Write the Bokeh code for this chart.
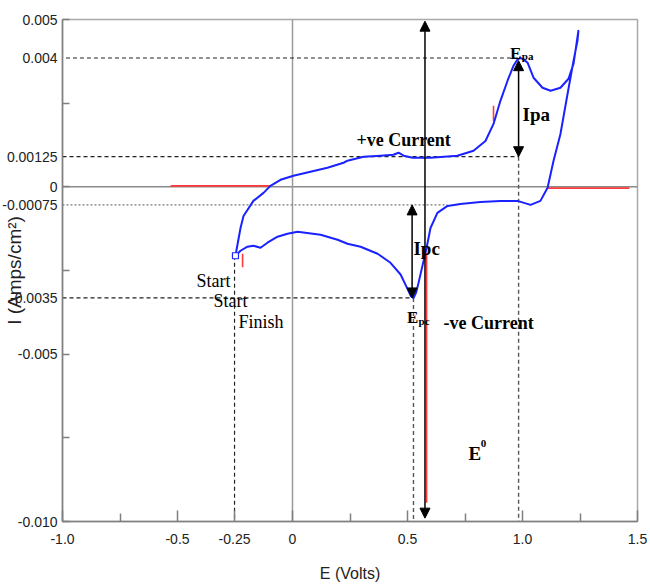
import math
from bokeh.plotting import figure
from bokeh.models import Range1d, FixedTicker, Arrow, NormalHead, Label, Span
from bokeh.embed import file_html
from bokeh.resources import INLINE

# ---- cyclic voltammogram (E in V, I in A/cm^2) ----
cv_E = [-0.248, -0.226, -0.213, -0.170, -0.126, -0.096, -0.052, 0.004, 0.078, 0.152,
        0.222, 0.239, 0.309, 0.383, 0.439, 0.461, 0.483, 0.522, 0.600, 0.717,
        0.787, 0.839, 0.874, 0.904, 0.935, 0.961, 0.978, 0.991, 1.005, 1.022, 1.048, 1.087,
        1.122, 1.165, 1.200, 1.222, 1.243,
        1.239, 1.222, 1.196, 1.165, 1.135, 1.109, 1.078, 1.035, 0.978, 0.904,
        0.817, 0.730, 0.674, 0.630, 0.600, 0.583, 0.565, 0.548, 0.537, 0.526, 0.515, 0.500,
        0.470, 0.426, 0.370, 0.296, 0.239, 0.196, 0.122, 0.022, -0.022, -0.065,
        -0.109, -0.139, -0.170, -0.196, -0.226, -0.248]
cv_I = [-0.00206, -0.00123, -0.00087, -0.00042, -0.00018, 0.00003, 0.00021, 0.00033, 0.00045, 0.00057,
        0.00072, 0.00078, 0.00090, 0.00093, 0.00096, 0.00102, 0.00093, 0.00087, 0.00087, 0.00093,
        0.00108, 0.00137, 0.00188, 0.00257, 0.00317, 0.00362, 0.00380, 0.00385, 0.00381, 0.00371, 0.00326, 0.00296,
        0.00287, 0.00296, 0.00323, 0.00368, 0.00466,
        0.00436, 0.00377, 0.00278, 0.00158, 0.00078, -0.00003, -0.00042, -0.00054, -0.00042, -0.00042,
        -0.00045, -0.00051, -0.00057, -0.00078, -0.00123, -0.00182, -0.00236, -0.00287, -0.00317, -0.00332, -0.00327, -0.00305,
        -0.00262, -0.00227, -0.00200, -0.00179, -0.00170, -0.00158, -0.00143, -0.00134, -0.00140, -0.00149,
        -0.00167, -0.00182, -0.00176, -0.00179, -0.00191, -0.00206]

# second (red) trace fragments visible in the picture
red_E = [[-0.53, -0.096], [1.107, 1.465], [0.583, 0.583], [-0.217, -0.217], [0.874, 0.874]]
red_I = [[0.00003, 0.00003], [-0.00004, -0.00004], [-0.00197, -0.00944], [-0.00200, -0.00240], [0.00242, 0.00197]]

# characteristic values marked on the chart
E_pa = 0.983
E_pc = 0.526
E_start = -0.252
E_0 = 0.576
I_pa = 0.00385
I_pa_base = 0.0009
I_pc_base = -0.00054
I_pc = -0.00332
marked_levels = [I_pa, I_pa_base, I_pc_base, I_pc]
marked_labels = ["0.004", "0.00125", "-0.00075", "-0.0035"]
E_start_label = "-0.25"

# axes
x_major = [-1.0, -0.5, 0.0, 0.5, 1.0, 1.5]
x_major_labels = ["-1.0", "-0.5", "0", "0.5", "1.0", "1.5"]
x_minor = [-0.75, 0.25, 0.75, 1.25]
y_major = [0.005, 0.0, -0.005, -0.010]
y_major_labels = ["0.005", "0", "-0.005", "-0.010"]
y_minor = [0.0025, -0.0025, -0.0075]

BLUE = "#1a22ff"
RED = "#ff3a3a"
GRAY = "#7f7f7f"
SERIF = "Liberation Serif"
SANS = "Liberation Sans"

p = figure(width=650, height=586, output_backend="svg", toolbar_location=None,
           x_range=Range1d(-1.0, 1.5), y_range=Range1d(-0.010, 0.005),
           min_border_left=62, min_border_right=13, min_border_top=19, min_border_bottom=65)
p.grid.visible = False
p.outline_line_color = "#a9a9a9"
p.outline_line_width = 1.5
p.background_fill_color = "white"
p.border_fill_color = "white"

# x axis: regular ticks plus the marked start potential
xt = x_major + [E_start]
xl = x_major_labels + [E_start_label]
p.xaxis.ticker = FixedTicker(ticks=xt, minor_ticks=x_minor)
p.xaxis.major_label_overrides = {v: s for v, s in zip(xt, xl)}

# y axis: regular ticks plus the marked current levels
yt = y_major + marked_levels
yl = y_major_labels + marked_labels
p.yaxis.ticker = FixedTicker(ticks=yt, minor_ticks=y_major + y_minor)
p.yaxis.major_label_overrides = {v: s for v, s in zip(yt, yl)}

for ax in (p.xaxis[0], p.yaxis[0]):
    ax.axis_line_color = GRAY
    ax.axis_line_width = 1.5
    ax.major_tick_line_color = GRAY
    ax.minor_tick_line_color = GRAY
    ax.major_tick_line_width = 1.5
    ax.minor_tick_line_width = 1.5
    ax.major_tick_out = 0
    ax.minor_tick_out = 0
    ax.major_label_text_font = SANS
    ax.major_label_text_font_size = "14px"
    ax.major_label_text_color = "#222222"
    ax.axis_label_text_font = SANS
    ax.axis_label_text_font_style = "normal"
    ax.axis_label_text_color = "#222222"
p.xaxis.major_tick_in = 11
p.xaxis.minor_tick_in = 8
p.yaxis.major_tick_in = 0
p.yaxis.minor_tick_in = 7
p.xaxis.major_label_standoff = 12
p.yaxis.major_label_standoff = 5
p.xaxis.axis_label = "E (Volts)"
p.xaxis.axis_label_text_font_size = "16px"
p.xaxis.axis_label_standoff = 18
p.yaxis.axis_label = "I (Amps/cm\u00b2)"
p.yaxis.axis_label_text_font_size = "19px"
p.yaxis.axis_label_standoff = -26

# zero lines
p.add_layout(Span(location=0, dimension="width", line_color="#8a8a8a", line_width=1.5, level="underlay"))
p.add_layout(Span(location=0, dimension="height", line_color="#9a9a9a", line_width=1.5, level="underlay"))

# dashed guide lines
dash = "4 3"
p.segment(x0=[-0.985, -1.0, -1.0], y0=[I_pa, I_pa_base, I_pc],
          x1=[E_pa, E_pa, E_pc], y1=[I_pa, I_pa_base, I_pc],
          line_color="#222222", line_width=1.2, line_dash=dash)
p.segment(x0=[-1.0], y0=[I_pc_base], x1=[0.674], y1=[I_pc_base],
          line_color="#777777", line_width=1.2, line_dash="2 2")
p.segment(x0=[E_start], y0=[cv_I[0]], x1=[E_start], y1=[-0.010],
          line_color="#222222", line_width=1.2, line_dash=dash)
p.segment(x0=[E_pc, E_pa], y0=[I_pc, I_pa_base], x1=[E_pc, E_pa], y1=[-0.010, -0.010],
          line_color="#555555", line_width=1.4, line_dash=dash)

# red trace
p.multi_line(xs=red_E, ys=red_I, line_color=RED, line_width=1.6)

# blue CV loop
p.line(cv_E, cv_I, line_color=BLUE, line_width=2, line_join="round")
p.scatter([cv_E[0]], [cv_I[0]], marker="square", size=6, fill_color="white",
          line_color=BLUE, line_width=1.2)

# arrows
def darrow(x, y0, y1, size=10):
    p.add_layout(Arrow(x_start=x, y_start=y0, x_end=x, y_end=y1, line_color="black", line_width=1.5,
                       start=NormalHead(size=size, fill_color="black", line_color="black"),
                       end=NormalHead(size=size, fill_color="black", line_color="black")))

darrow(E_0, -0.0099, 0.00495)
darrow(E_pa, I_pa_base, I_pa - 0.00008)
darrow(0.520, I_pc_base, I_pc)

def lab(x, y, text, size, font=SERIF, style="bold", align="left", baseline="alphabetic", color="black"):
    p.add_layout(Label(x=x, y=y, text=text, text_font=font, text_font_size=size,
                       text_font_style=style, text_align=align, text_baseline=baseline,
                       text_color=color))

# chart texts
lab(0.278, 0.0014, "+ve Current", "18px")
lab(0.657, -0.00406, "-ve Current", "18px")
lab(1.0, 0.00215, "Ipa", "19px")
lab(0.526, -0.00185, "Ipc", "19px")
lab(0.946, 0.00397, "E", "17px")
lab(0.997, 0.00391, "pa", "11px")
lab(0.498, -0.00391, "E", "17px")
lab(0.548, -0.00400, "pc", "11px")
lab(0.765, -0.00798, "E", "19px")
lab(0.818, -0.00768, "0", "11px")
lab(-0.417, -0.00281, "Start", "18px", style="normal")
lab(-0.343, -0.00340, "Start", "18px", style="normal")
lab(-0.235, -0.00403, "Finish", "18px", style="normal")

open("out.html", "w").write(file_html(p, INLINE))
